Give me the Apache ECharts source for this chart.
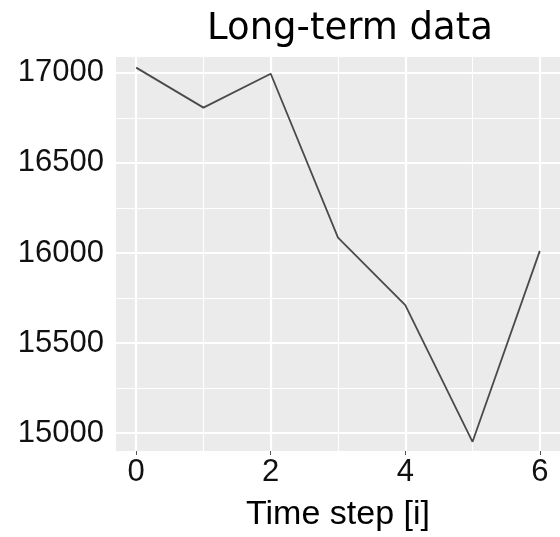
<!DOCTYPE html>
<html>
<head>
<meta charset="utf-8">
<script src="https://cdn.jsdelivr.net/npm/echarts@6/dist/echarts.min.js"></script>
<style>html,body{margin:0;padding:0;background:#fff}#c{width:560px;height:537px}</style>
</head>
<body>
<div id="c"></div>
<script>
const titleText = 'Long-term data';
const xName = 'Time step [i]';
const xValues = [0, 1, 2, 3, 4, 5, 6];
const yValues = [17029, 16807, 16995, 16085, 15711, 14952, 16012];
const xMajor = [0, 2, 4, 6];
const xMinor = [1, 3, 5];
const yMajor = [15000, 15500, 16000, 16500, 17000];
const yMinor = [15250, 15750, 16250, 16750];

const chart = echarts.init(document.getElementById('c'), null, {renderer: 'canvas'});
const lineData = xValues.map((x, i) => [x, yValues[i]]);
const gridLines = [];
xMinor.forEach(v => gridLines.push({xAxis: v, lineStyle: {color: '#fff', width: 1.1, type: 'solid'}}));
yMinor.forEach(v => gridLines.push({yAxis: v, lineStyle: {color: '#fff', width: 1.1, type: 'solid'}}));
xMajor.forEach(v => gridLines.push({xAxis: v, lineStyle: {color: '#fff', width: 2.2, type: 'solid'}}));
yMajor.forEach(v => gridLines.push({yAxis: v, lineStyle: {color: '#fff', width: 2.2, type: 'solid'}}));

const tickFont = '"Liberation Sans", Arial, sans-serif';

chart.setOption({
  animation: false,
  title: {
    text: titleText, left: 345, top: 6, textAlign: 'center',
    textStyle: {fontFamily: 'DejaVu Sans', fontSize: 37, fontWeight: 'normal', color: '#000'}
  },
  grid: {left: 116, right: -13, top: 57, bottom: 81, show: true, backgroundColor: '#EBEBEB', borderWidth: 0},
  xAxis: {
    type: 'value', min: -0.3, max: 6.3,
    name: xName, nameLocation: 'middle', nameGap: 47,
    nameTextStyle: {fontFamily: 'Liberation Sans', fontSize: 34, color: '#000'},
    axisLine: {show: false},
    axisTick: {show: true, length: 4, lineStyle: {color: '#555', width: 1}, customValues: xMajor},
    axisLabel: {customValues: xMajor, margin: 6, fontFamily: tickFont, fontSize: 31, color: '#111',
      formatter: v => String(v)},
    splitLine: {show: false}
  },
  yAxis: {
    type: 'value', min: 14901, max: 17088,
    axisLine: {show: false},
    axisTick: {show: true, length: 5, lineStyle: {color: '#555', width: 1}, customValues: yMajor},
    axisLabel: {customValues: yMajor, margin: 12, fontFamily: tickFont, fontSize: 31, color: '#111',
      formatter: v => String(v)},
    splitLine: {show: false}
  },
  series: [
    {
      type: 'line', data: [], z: 1, silent: true,
      markLine: {silent: true, z: 1, symbol: ['none', 'none'], label: {show: false}, animation: false, data: gridLines}
    },
    {
      type: 'line', data: lineData, z: 5, symbol: 'none', silent: true,
      lineStyle: {color: '#4a4a4a', width: 1.8}
    }
  ]
});
</script>
</body>
</html>
